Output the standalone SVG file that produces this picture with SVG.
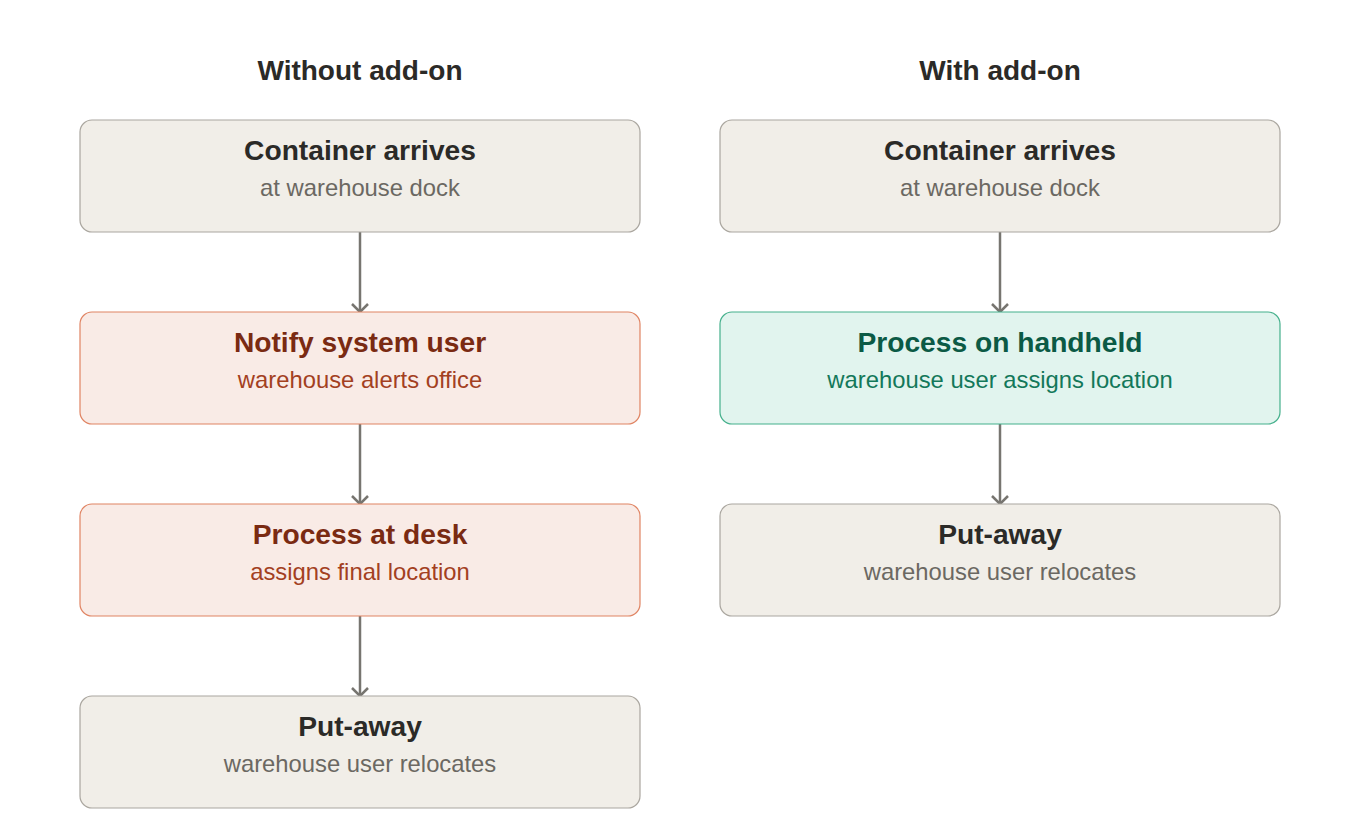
<svg xmlns="http://www.w3.org/2000/svg" width="1360" height="820" viewBox="0 0 1360 820">
<defs>
<marker id="arr" viewBox="0 0 20 20" refX="18" refY="10" markerWidth="20" markerHeight="20" markerUnits="userSpaceOnUse" orient="auto">
<path d="M10 2 L18 10 L10 18" fill="none" stroke="#777570" stroke-width="2.5"/>
</marker>
<style>
.hd{font-family:"Liberation Sans",Arial,sans-serif;font-weight:bold;font-size:28px;fill:#2b2a27;text-anchor:middle}
.t{font-family:"Liberation Sans",Arial,sans-serif;font-weight:bold;font-size:28.2px;text-anchor:middle}
.s{font-family:"Liberation Sans",Arial,sans-serif;font-size:23.8px;text-anchor:middle}
.n rect{fill:#f1eee8;stroke:#aaa69f;stroke-width:1.2}
.n .t{fill:#2b2a27}.n .s{fill:#6b6862}
.r rect{fill:#f9ebe6;stroke:#e08463;stroke-width:1.2}
.r .t{fill:#7a2a12}.r .s{fill:#a3401f}
.g rect{fill:#e1f4ee;stroke:#45b08c;stroke-width:1.2}
.g .t{fill:#0b5a45}.g .s{fill:#13785a}
.c line{stroke:#777570;stroke-width:2.5;marker-end:url(#arr)}
</style>
</defs>
<rect width="1360" height="820" fill="#ffffff"/>
<text class="hd" x="360" y="80">Without add-on</text>
<text class="hd" x="1000" y="80">With add-on</text>
<g id="connectors" class="c">
<line x1="360" y1="232" x2="360" y2="312"/>
<line x1="360" y1="424" x2="360" y2="504"/>
<line x1="360" y1="616" x2="360" y2="696"/>
<line x1="1000" y1="232" x2="1000" y2="312"/>
<line x1="1000" y1="424" x2="1000" y2="504"/>
</g>
<g id="l1" class="n"><rect x="80" y="120" width="560" height="112" rx="12"/><text class="t" x="360" y="160">Container arrives</text><text class="s" x="360" y="196">at warehouse dock</text></g>
<g id="l2" class="r"><rect x="80" y="312" width="560" height="112" rx="12"/><text class="t" x="360" y="352">Notify system user</text><text class="s" x="360" y="388">warehouse alerts office</text></g>
<g id="l3" class="r"><rect x="80" y="504" width="560" height="112" rx="12"/><text class="t" x="360" y="544">Process at desk</text><text class="s" x="360" y="580">assigns final location</text></g>
<g id="l4" class="n"><rect x="80" y="696" width="560" height="112" rx="12"/><text class="t" x="360" y="736">Put-away</text><text class="s" x="360" y="772">warehouse user relocates</text></g>
<g id="r1" class="n"><rect x="720" y="120" width="560" height="112" rx="12"/><text class="t" x="1000" y="160">Container arrives</text><text class="s" x="1000" y="196">at warehouse dock</text></g>
<g id="r2" class="g"><rect x="720" y="312" width="560" height="112" rx="12"/><text class="t" x="1000" y="352">Process on handheld</text><text class="s" x="1000" y="388">warehouse user assigns location</text></g>
<g id="r3" class="n"><rect x="720" y="504" width="560" height="112" rx="12"/><text class="t" x="1000" y="544">Put-away</text><text class="s" x="1000" y="580">warehouse user relocates</text></g>
</svg>
